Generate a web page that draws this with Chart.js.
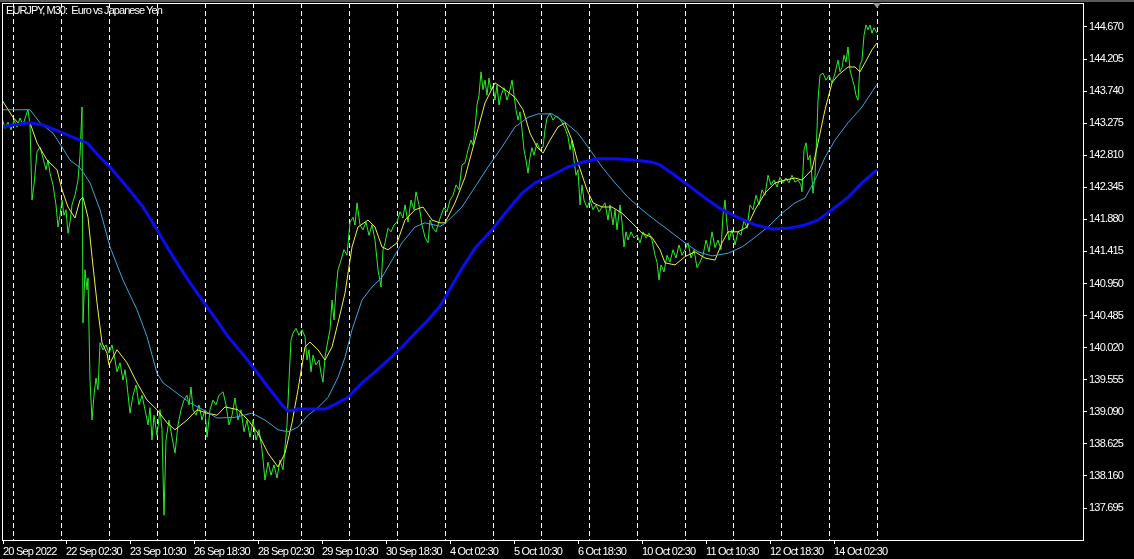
<!DOCTYPE html>
<html><head><meta charset="utf-8">
<script src="https://cdn.jsdelivr.net/npm/chart.js@4"></script>
<style>
html,body{margin:0;padding:0;background:#000;overflow:hidden;}
#wrap{position:relative;width:1134px;height:559px;}
#title{position:absolute;left:6px;top:4px;color:#fff;font:11px 'Liberation Sans',sans-serif;letter-spacing:-0.95px;white-space:pre;line-height:13px;}
</style></head><body>
<div id="wrap"><canvas id="c" width="1134" height="559"></canvas><div id="title">EURJPY, M30:  Euro vs Japanese Yen</div></div>
<script>
const FONT = "'Liberation Sans',sans-serif";

// bar index (M30 bars) of each time label, and the labels
const xTickIdx = [1,64,128,192,256,320,384,448,512,576,640,704,768,832];
const xTickLabels = ["20 Sep 2022","22 Sep 02:30","23 Sep 10:30","26 Sep 18:30","28 Sep 02:30","29 Sep 10:30","30 Sep 18:30","4 Oct 02:30","5 Oct 10:30","6 Oct 18:30","10 Oct 02:30","11 Oct 10:30","12 Oct 18:30","14 Oct 02:30"];
// day separators (bar index of each day start)
const daySepIdx = [11,59,107,155,203,251,299,347,395,443,491,539,587,635,683,731,779,827,875];
// price axis labels
const yTickLabels = ["137.695","138.160","138.625","139.090","139.555","140.020","140.485","140.950","141.415","141.880","142.345","142.810","143.275","143.740","144.205","144.670"];
const yMin = 137.231, yMax = 145.018, xMax = 1081;

// EURJPY close (bar index, price)
const priceClose = [[0,143.35],[3,143.20],[6,143.29],[9,143.18],[12,143.32],[15,143.22],[18,143.35],[21,143.25],[24,143.39],[26,143.47],[28,143.25],[30,142.16],[32,142.38],[35,142.86],[38,142.93],[41,142.77],[44,142.60],[46,142.74],[48,142.55],[51,142.38],[54,142.09],[56,141.77],[58,141.94],[60,142.16],[62,141.94],[64,142.02],[66,141.68],[68,141.84],[70,142.09],[73,142.23],[76,142.45],[78,142.81],[80,143.51],[81,140.38],[83,141.15],[85,140.86],[86,141.03],[88,139.55],[90,138.97],[92,139.33],[94,139.58],[96,139.41],[98,140.09],[101,139.99],[104,140.06],[107,139.94],[110,140.06],[113,139.84],[115,139.67],[118,139.80],[121,139.55],[123,139.70],[125,139.48],[128,139.07],[131,139.33],[134,139.48],[137,139.19],[140,139.33],[143,139.12],[146,138.90],[148,139.15],[150,138.68],[152,139.04],[155,138.75],[158,139.12],[160,138.83],[162,137.59],[164,138.68],[167,138.97],[170,138.72],[173,138.49],[176,138.90],[179,139.12],[182,139.26],[185,139.33],[187,139.19],[189,139.45],[191,139.12],[194,139.04],[197,139.19],[200,138.97],[203,139.12],[205,138.72],[208,139.12],[211,139.26],[214,139.19],[217,139.33],[221,139.38],[224,139.19],[227,138.90],[230,139.04],[233,139.29],[236,138.97],[239,139.12],[242,138.80],[245,138.97],[248,138.72],[251,138.97],[254,138.68],[257,138.83],[260,138.54],[263,138.10],[266,138.36],[269,138.17],[272,138.32],[275,138.13],[278,138.39],[281,138.25],[283,138.58],[285,138.90],[287,139.55],[289,140.13],[291,140.23],[294,140.30],[297,140.20],[300,140.28],[303,140.18],[305,139.84],[307,139.99],[309,139.67],[311,139.91],[314,139.77],[317,139.84],[319,139.65],[321,139.52],[323,139.88],[326,140.13],[328,140.28],[330,140.71],[332,140.42],[334,140.86],[336,141.15],[339,141.29],[342,141.44],[345,141.36],[348,141.84],[351,141.91],[353,141.80],[355,142.12],[358,141.80],[361,141.73],[364,141.84],[367,141.65],[370,141.80],[373,141.58],[376,141.15],[379,140.90],[381,141.44],[383,141.54],[386,141.75],[389,141.70],[392,141.80],[395,141.84],[398,141.99],[401,141.90],[403,142.09],[406,141.84],[409,142.16],[412,142.02],[414,142.28],[417,142.09],[420,141.80],[423,141.62],[426,141.54],[428,141.87],[431,141.75],[434,141.70],[436,141.80],[439,141.94],[442,142.05],[445,141.99],[448,142.16],[451,142.23],[454,142.38],[457,142.31],[460,142.67],[463,142.70],[466,142.89],[469,143.03],[471,142.96],[473,143.20],[475,143.54],[477,143.68],[479,144.02],[481,143.76],[483,143.90],[485,143.68],[487,143.93],[489,143.76],[491,143.81],[493,143.61],[495,143.83],[497,143.54],[499,143.68],[502,143.79],[505,143.61],[508,143.76],[510,143.90],[512,143.68],[514,143.47],[516,143.32],[518,143.44],[520,143.18],[522,142.89],[524,142.74],[526,142.55],[528,142.78],[530,142.92],[532,142.81],[535,142.99],[538,142.89],[541,142.93],[543,143.18],[545,143.35],[548,143.42],[551,143.32],[554,143.38],[557,143.35],[560,143.29],[563,143.20],[566,143.08],[568,142.89],[570,143.03],[572,142.74],[574,142.52],[576,142.60],[578,142.09],[580,142.38],[582,142.16],[585,142.05],[588,142.16],[591,142.02],[594,142.09],[597,141.99],[600,142.06],[603,142.12],[606,141.87],[608,142.09],[611,141.80],[613,142.02],[615,141.73],[618,142.09],[620,141.84],[622,141.48],[624,141.70],[626,141.58],[629,141.70],[632,141.61],[635,141.65],[638,141.54],[641,141.70],[644,141.61],[647,141.68],[650,141.58],[653,141.36],[655,141.26],[657,141.00],[659,141.22],[662,141.12],[665,141.36],[668,141.26],[671,141.44],[674,141.32],[677,141.51],[680,141.36],[683,141.44],[686,141.54],[689,141.32],[692,141.44],[695,141.18],[698,141.26],[701,141.36],[704,141.58],[707,141.41],[710,141.70],[713,141.47],[716,141.58],[719,141.44],[721,141.94],[723,142.16],[725,141.80],[727,141.58],[730,141.73],[733,141.51],[736,141.70],[739,141.65],[742,141.87],[745,141.75],[748,142.09],[751,142.02],[754,142.23],[757,142.09],[760,142.31],[763,142.23],[766,142.52],[769,142.38],[772,142.45],[775,142.35],[778,142.49],[781,142.41],[784,142.48],[787,142.41],[790,142.52],[793,142.42],[796,142.45],[799,142.38],[800,142.28],[802,142.89],[804,142.99],[806,142.74],[808,142.81],[810,142.48],[811,142.26],[813,142.52],[815,143.18],[816,143.61],[818,143.97],[821,144.00],[824,143.90],[827,143.97],[830,143.86],[833,144.00],[836,144.19],[838,144.02],[840,144.08],[842,144.26],[844,144.16],[846,144.38],[848,144.05],[850,143.93],[852,143.83],[854,143.68],[856,143.61],[858,144.12],[860,144.19],[862,144.55],[864,144.70],[866,144.63],[868,144.70],[870,144.58],[872,144.66],[875,144.58]];

// fast moving average (yellow)
const maFast = [[0,143.61],[11,143.36],[18,143.25],[28,143.28],[35,142.99],[45,142.74],[55,142.60],[60,142.31],[66,142.06],[73,141.90],[78,142.16],[81,142.20],[86,141.91],[90,141.34],[95,140.67],[100,140.09],[105,139.94],[107,139.77],[115,139.99],[125,139.80],[135,139.51],[145,139.26],[155,139.12],[165,138.93],[173,138.83],[185,138.97],[195,139.12],[205,139.07],[215,139.04],[223,139.16],[236,139.12],[246,138.97],[256,138.78],[266,138.49],[276,138.29],[283,138.49],[290,138.93],[296,139.41],[303,140.03],[308,140.10],[316,139.99],[323,139.84],[330,140.03],[336,140.38],[343,140.81],[350,141.48],[356,141.77],[366,141.87],[373,141.77],[380,141.48],[386,141.44],[395,141.54],[403,141.87],[413,142.02],[421,142.06],[430,141.87],[438,141.83],[443,141.83],[453,142.12],[463,142.49],[473,143.03],[483,143.57],[493,143.86],[503,143.76],[513,143.65],[521,143.47],[528,143.13],[535,142.93],[541,142.84],[548,143.03],[556,143.22],[563,143.28],[570,143.03],[576,142.70],[585,142.31],[591,142.12],[600,142.06],[610,142.06],[620,141.97],[630,141.83],[640,141.68],[650,141.62],[658,141.44],[663,141.25],[673,141.22],[683,141.34],[693,141.41],[703,141.32],[713,141.29],[720,141.54],[726,141.70],[736,141.70],[745,141.77],[753,142.02],[763,142.26],[773,142.41],[783,142.45],[793,142.48],[800,142.45],[810,142.60],[816,142.99],[823,143.47],[830,143.86],[836,143.97],[846,144.09],[853,144.09],[858,144.02],[863,144.15],[870,144.34],[875,144.44]];

// medium moving average (light blue)
const maMid = [[0,143.47],[28,143.47],[38,143.28],[51,143.13],[60,142.93],[68,142.74],[78,142.63],[88,142.41],[98,142.02],[108,141.48],[121,141.00],[135,140.57],[145,140.18],[155,139.65],[161,139.51],[175,139.36],[188,139.22],[201,139.12],[215,139.00],[233,139.01],[250,139.07],[263,138.97],[276,138.83],[286,138.80],[296,138.87],[306,139.04],[316,139.15],[326,139.30],[336,139.59],[343,139.88],[350,140.28],[360,140.71],[370,140.90],[380,141.04],[390,141.29],[400,141.54],[413,141.77],[423,141.83],[438,141.78],[443,141.82],[460,142.06],[473,142.35],[486,142.64],[500,142.93],[513,143.22],[526,143.36],[536,143.41],[550,143.41],[563,143.29],[576,143.13],[586,142.93],[600,142.64],[613,142.41],[626,142.20],[640,142.02],[653,141.87],[666,141.73],[683,141.54],[696,141.41],[710,141.35],[726,141.39],[740,141.48],[753,141.62],[766,141.77],[780,141.97],[793,142.12],[803,142.19],[813,142.45],[823,142.78],[833,143.03],[846,143.28],[860,143.51],[875,143.84]];

// slow moving average (blue)
const maSlow = [[0,143.22],[11,143.25],[28,143.28],[41,143.25],[58,143.15],[78,143.03],[85,142.99],[98,142.78],[108,142.64],[125,142.35],[141,142.06],[155,141.73],[171,141.34],[188,140.96],[205,140.61],[216,140.39],[226,140.18],[240,139.94],[253,139.70],[266,139.45],[280,139.19],[286,139.10],[296,139.13],[310,139.13],[323,139.13],[336,139.22],[346,139.30],[360,139.51],[373,139.67],[386,139.84],[400,140.03],[413,140.23],[426,140.42],[438,140.62],[450,140.92],[460,141.17],[473,141.46],[490,141.73],[506,142.02],[520,142.26],[533,142.41],[550,142.52],[566,142.64],[580,142.71],[596,142.76],[613,142.76],[633,142.74],[650,142.71],[658,142.67],[670,142.55],[686,142.38],[703,142.19],[720,142.02],[736,141.91],[753,141.80],[770,141.74],[786,141.75],[803,141.80],[816,141.87],[830,142.02],[846,142.20],[860,142.41],[875,142.60]];

const lastIdx = priceClose[priceClose.length-1][0];
const toXY = a => a.map(p => ({x:p[0], y:p[1]}));

const framePlugin = {
  id: 'frame',
  beforeLayout(chart){ chart.ctx.letterSpacing = '-0.8px'; },
  beforeDraw(chart){
    const ctx = chart.ctx;
    ctx.letterSpacing = '-0.8px';
    ctx.save();
    ctx.fillStyle = '#000'; ctx.fillRect(0,0,chart.width,chart.height);
    ctx.fillStyle = '#5a5a5a'; ctx.fillRect(0,0,chart.width,2);
    ctx.restore();
  },
  afterDraw(chart){
    const a = chart.chartArea, ctx = chart.ctx; ctx.save();
    ctx.strokeStyle = '#fff'; ctx.lineWidth = 1;
    ctx.strokeRect(a.left+0.5, a.top+0.5, a.right-a.left, a.bottom-a.top);
    const x = chart.scales.x.getPixelForValue(lastIdx);
    ctx.fillStyle = '#9a9a9a'; ctx.beginPath();
    ctx.moveTo(x-4, a.top); ctx.lineTo(x+4, a.top); ctx.lineTo(x, a.top+5); ctx.closePath(); ctx.fill();
    ctx.restore();
  }
};

const zeroPad = s => { s.paddingTop = 0; s.paddingBottom = 0; s.paddingLeft = 0; s.paddingRight = 0; };

new Chart(document.getElementById('c'), {
  type: 'line',
  data: { datasets: [
    { data: toXY(maSlow), borderColor: '#0c0cf0', borderWidth: 3, pointRadius: 0, order: 1 },
    { data: toXY(maMid), borderColor: '#3aa6dc', borderWidth: 1, pointRadius: 0, order: 2 },
    { data: toXY(maFast), borderColor: '#f0f040', borderWidth: 1, pointRadius: 0, order: 3 },
    { data: toXY(priceClose), borderColor: '#2aee2a', borderWidth: 1, pointRadius: 0, order: 10 }
  ]},
  options: {
    responsive: false, devicePixelRatio: 1, animation: false,
    layout: { padding: { left: 2, top: 3, right: 0, bottom: 0 } },
    plugins: { legend: { display: false }, tooltip: { enabled: false } },
    elements: { line: { tension: 0, borderJoinStyle: 'round' } },
    scales: {
      x: {
        type: 'linear', position: 'bottom', min: 0, max: xMax,
        afterBuildTicks: s => { s.ticks = xTickIdx.map(v => ({value: v})); },
        afterFit: s => { s.height = 19; zeroPad(s); },
        grid: { drawOnChartArea: false, drawTicks: true, tickLength: 4, color: '#fff' },
        border: { display: false },
        ticks: { color: '#fff', font: { family: FONT, size: 11 }, padding: 1, align: 'start', maxRotation: 0, autoSkip: false,
                 callback: (v, i) => xTickLabels[i] }
      },
      xSep: {
        type: 'linear', position: 'top', min: 0, max: xMax,
        afterBuildTicks: s => { s.ticks = daySepIdx.map(v => ({value: v})); },
        afterFit: s => { s.height = 0; zeroPad(s); },
        grid: { color: '#fff', drawTicks: false, drawOnChartArea: true, lineWidth: 1 },
        border: { display: false, dash: [5, 3] },
        ticks: { display: false }
      },
      y: {
        type: 'linear', position: 'right', min: yMin, max: yMax,
        afterBuildTicks: s => { s.ticks = yTickLabels.map(t => ({value: parseFloat(t)})); },
        afterFit: s => { s.width = 51; zeroPad(s); },
        grid: { drawOnChartArea: false, drawTicks: true, tickLength: 4, color: '#fff' },
        border: { display: false },
        ticks: { color: '#fff', font: { family: FONT, size: 11 }, padding: 2, autoSkip: false,
                 callback: (v, i) => yTickLabels[i] }
      }
    }
  },
  plugins: [framePlugin]
});
</script>
</body></html>
